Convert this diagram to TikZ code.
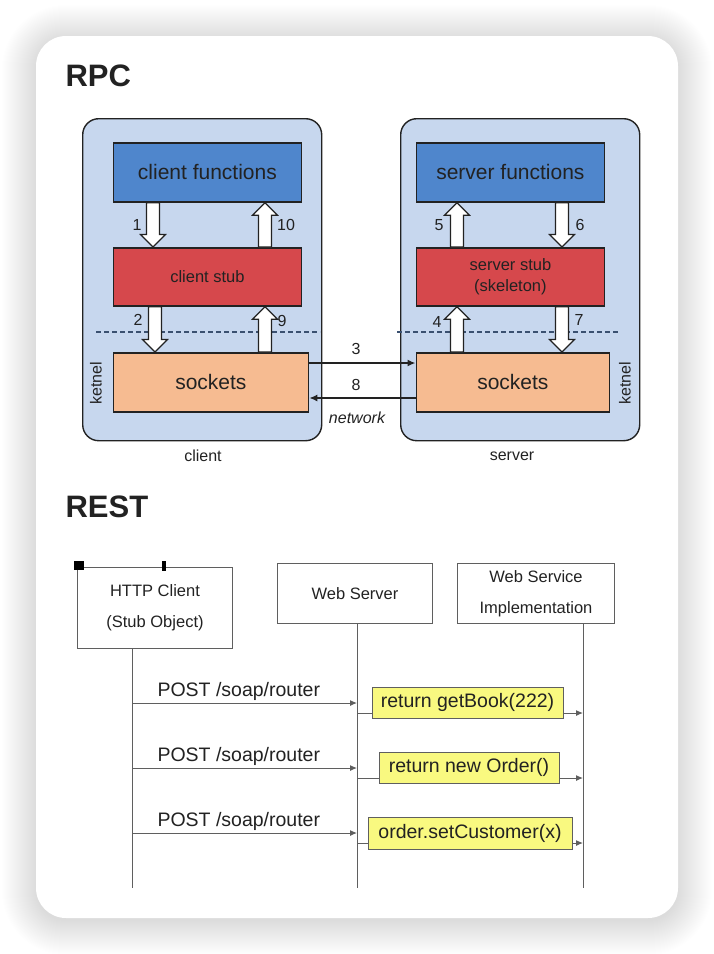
\documentclass[tikz,border=0pt]{standalone}
\usepackage{fontspec}
\setmainfont{Liberation Sans}
\usetikzlibrary{calc,arrows.meta}
\definecolor{contfill}{RGB}{199,215,238}
\definecolor{cblue}{RGB}{79,134,204}
\definecolor{cred}{RGB}{214,72,76}
\definecolor{cpeach}{RGB}{246,187,145}
\definecolor{dashc}{RGB}{58,80,112}
\definecolor{ylw}{RGB}{249,249,128}
\definecolor{seqc}{RGB}{95,95,95}
\definecolor{txt}{RGB}{34,34,34}
\newcommand\hollowdown[3]{%
  \draw[harrow] let \p1=(#2.south), \p2=(#3.north) in
    ({#1pt-6.5pt},\y1) -- ({#1pt+6.5pt},\y1) -- ({#1pt+6.5pt},{\y2+12.5pt}) --
    ({#1pt+12.5pt},{\y2+12.5pt}) -- ({#1pt},\y2) -- ({#1pt-12.5pt},{\y2+12.5pt}) --
    ({#1pt-6.5pt},{\y2+12.5pt}) -- cycle;}
\newcommand\hollowup[3]{%
  \draw[harrow] let \p1=(#2.north), \p2=(#3.south) in
    ({#1pt-6.5pt},\y1) -- ({#1pt+6.5pt},\y1) -- ({#1pt+6.5pt},{\y2-12.5pt}) --
    ({#1pt+12.5pt},{\y2-12.5pt}) -- ({#1pt},\y2) -- ({#1pt-12.5pt},{\y2-12.5pt}) --
    ({#1pt-6.5pt},{\y2-12.5pt}) -- cycle;}
\begin{document}
\begin{tikzpicture}[x=1pt,y=-1pt,
  cont/.style={draw=txt, line width=1.4pt, fill=contfill, rounded corners=16pt, anchor=north west, minimum width=239pt, minimum height=322pt, inner sep=0pt},
  rbox/.style={draw=txt, line width=1.8pt, anchor=north west, inner sep=0pt, text=txt, align=center},
  big/.style={font=\fontsize{21}{24}\selectfont},
  small/.style={font=\fontsize{16.5}{21}\selectfont},
  num/.style={font=\fontsize{16}{18}\selectfont, text=txt},
  harrow/.style={draw=txt, line width=1.2pt, fill=white, line join=miter},
  netarrow/.style={draw=txt, line width=1.6pt, -{Latex[length=8pt,width=7pt]}},
  dash line/.style={draw=dashc, line width=1.2pt, dashed, dash pattern=on 5pt off 3pt},
  title/.style={anchor=base west, font=\fontsize{31}{31}\selectfont\bfseries, text=txt},
  sbox/.style={draw=seqc, line width=1pt, fill=white, anchor=north west, inner sep=0pt, align=center, text=txt, font=\fontsize{16.5}{31}\selectfont},
  life/.style={draw=seqc, line width=1pt},
  msg/.style={draw=seqc, line width=1pt, -{Latex[length=7pt,width=6pt]}},
  mlabel/.style={anchor=base west, font=\fontsize{19.5}{22}\selectfont, text=txt},
  ybox/.style={draw=seqc, line width=1pt, fill=ylw, anchor=north west, inner sep=0pt, outer sep=0pt, text=txt, font=\fontsize{19.5}{22}\selectfont},
]
\useasboundingbox (0,0) rectangle (714,954);
% background and card with soft shadow
\fill[white] (0,0) rectangle (714,954);
\foreach \i in {0,...,34} {
  \fill[black, opacity=0.005, rounded corners={30pt+\i pt}] ({36-\i},{36-\i+3}) rectangle ({678+\i},{918+\i+3});
}
\fill[white, rounded corners=30pt] (36,36) rectangle (678,918);

% ---------------- RPC ----------------
\node[title] (trpc) at (62,86) {RPC};

\node[cont] (cc) at (82,118) {};
\node[cont] (sc) at (400,118) {};

\node[rbox, big, fill=cblue, minimum width=188pt, minimum height=59pt] (cf) at (112.5,142) {client functions};
\node[rbox, small, fill=cred, minimum width=188pt, minimum height=58pt] (cs) at (112.5,247) {client stub};
\node[rbox, big, fill=cpeach, minimum width=195pt, minimum height=59pt] (ck) at (112.5,352) {sockets};

\node[rbox, big, fill=cblue, minimum width=188pt, minimum height=59pt] (sf) at (415.5,142) {server functions};
\node[rbox, small, fill=cred, minimum width=188pt, minimum height=58pt] (ss) at (415.5,247) {server stub\\(skeleton)};
\node[rbox, big, fill=cpeach, minimum width=193pt, minimum height=59pt] (sk) at (415.5,352) {sockets};

% kernel boundary
\draw[dash line] (96,332) -- (320,332);
\draw[dash line] (397,332) -- (620,332);

% hollow arrows client
\hollowdown{153}{cf}{cs}
\hollowup{265}{cs}{cf}
\hollowdown{155}{cs}{ck}
\hollowup{265}{ck}{cs}
% hollow arrows server
\hollowup{457}{ss}{sf}
\hollowdown{562}{sf}{ss}
\hollowup{457}{sk}{ss}
\hollowdown{562}{ss}{sk}

\node[num] (n1) at (137,225) {1};
\node[num] (n10) at (286,225) {10};
\node[num] (n2) at (138,320) {2};
\node[num] (n9) at (282,321) {9};
\node[num] (n5) at (439,225) {5};
\node[num] (n6) at (580,225) {6};
\node[num] (n4) at (437,322) {4};
\node[num] (n7) at (579,320) {7};

% network
\draw[netarrow] ([yshift=-11pt]ck.north east) -- ([yshift=-11pt]sk.north west);
\draw[netarrow] ([yshift=-46pt]sk.north west) -- ([yshift=-46pt]ck.north east);
\node[num] (n3) at (356,349) {3};
\node[num] (n8) at (356,385) {8};
\node[num, font=\fontsize{16}{18}\selectfont\itshape] (nw) at (357,418) {network};

\node[num, rotate=90] (k1) at (96,383) {ketnel};
\node[num, rotate=90] (k2) at (625,383) {ketnel};
\node[num] (lc) at (203,456) {client};
\node[num] (ls) at (512,456) {server};

% ---------------- REST ----------------
\node[title] (trest) at (62,517) {REST};

\node[sbox, minimum width=155pt, minimum height=81pt] (hc) at (77,567) {HTTP Client\\(Stub Object)};
\fill[black] (73.5,561) rectangle (83.5,570) coordinate (sq1);
\fill[black] (162,561) rectangle (166,571) coordinate (sq2);
\node[sbox, minimum width=155pt, minimum height=60pt] (ws) at (277,563) {Web Server};
\node[sbox, minimum width=157pt, minimum height=60pt] (wsi) at (457,563) {Web Service\\Implementation};

\coordinate (l1t) at ([xshift=55pt]hc.south west);
\coordinate (l2t) at ([xshift=80pt]ws.south west);
\coordinate (l3t) at ([xshift=126pt]wsi.south west);
\coordinate (l1b) at (132,888);
\coordinate (l2b) at (357,888);
\coordinate (l3b) at (583,888);
\draw[life] (l1t) -- (l1b);
\draw[life] (l2t) -- (l2b);
\draw[life] (l3t) -- (l3b);

% messages
\coordinate (a1) at (132,703); \coordinate (b1) at (357,703);
\coordinate (a2) at (132,768); \coordinate (b2) at (357,768);
\coordinate (a3) at (132,833); \coordinate (b3) at (357,833);
\draw[msg] (a1) -- (b1);
\draw[msg] (a2) -- (b2);
\draw[msg] (a3) -- (b3);
\node[mlabel] (p1) at (154,696) {POST /soap/router};
\node[mlabel] (p2) at (154,761) {POST /soap/router};
\node[mlabel] (p3) at (154,826) {POST /soap/router};

\node[ybox, minimum width=191pt, minimum height=31pt] (y1) at (372,687) {return getBook(222)};
\node[ybox, minimum width=180pt, minimum height=31pt] (y2) at (379,752) {return new Order()};
\node[ybox, minimum width=204pt, minimum height=32pt] (y3) at (368,817) {order.setCustomer(x)};

\coordinate (c1) at (357,713); \coordinate (d1) at (583,713);
\coordinate (c2) at (357,778); \coordinate (d2) at (583,778);
\coordinate (c3) at (357,843); \coordinate (d3) at (583,843);
\draw[life] (c1) -- (c1 -| y1.west);
\draw[msg] (c1 -| y1.east) -- (d1);
\draw[life] (c2) -- (c2 -| y2.west);
\draw[msg] (c2 -| y2.east) -- (d2);
\draw[life] (c3) -- (c3 -| y3.west);
\draw[msg] (c3 -| y3.east) -- (d3);
\end{tikzpicture}
\end{document}
